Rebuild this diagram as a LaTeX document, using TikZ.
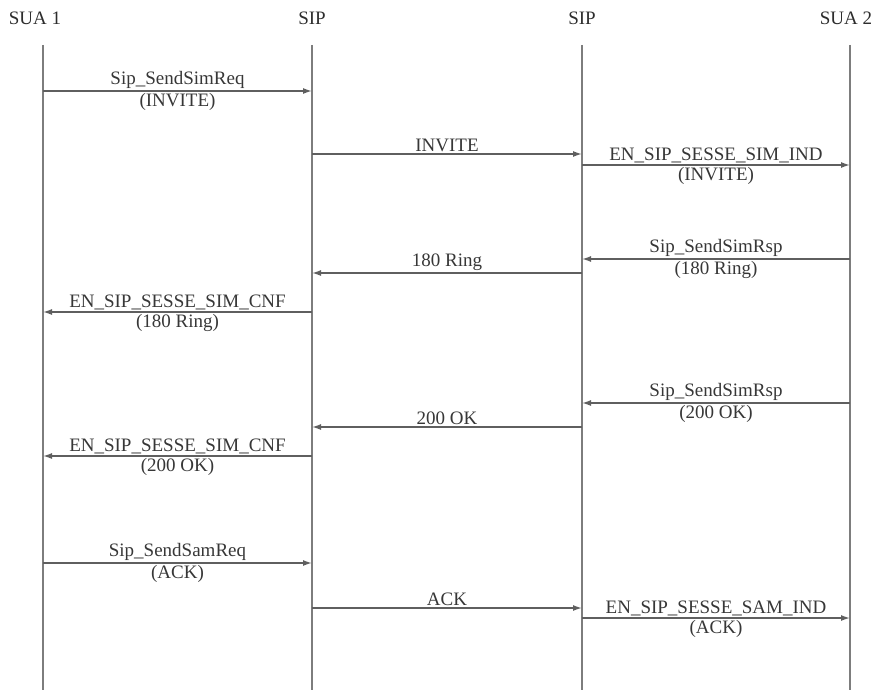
\documentclass[tikz,border=0pt]{standalone}
\usepackage{fontspec}
\setmainfont{Liberation Serif}
\usetikzlibrary{arrows.meta}

\begin{document}
\begin{tikzpicture}[x=1pt, y=-1pt, >={Latex[length=9pt,width=6pt]}]
  \tikzset{
    actor/.style={font=\fontsize{19}{22}\selectfont, text={rgb,255:red,45;green,45;blue,45}, inner sep=0pt},
    lifeline/.style={line width=2pt, draw={rgb,255:red,125;green,125;blue,125}},
    msg/.style={->, line width=1.5pt, draw={rgb,255:red,95;green,95;blue,95}},
    lbl/.style={font=\fontsize{19}{22}\selectfont, text={rgb,255:red,55;green,55;blue,55}, inner sep=1.5pt}
  }
  \useasboundingbox (0,0) rectangle (880,690);

  % actors
  \node[actor] (A) at (35,18) {SUA 1};
  \node[actor] (B) at (312,18) {SIP};
  \node[actor] (C) at (582,18) {SIP};
  \node[actor] (D) at (846,18) {SUA 2};

  % lifelines
  \coordinate (At) at (43,45);   \coordinate (Ab) at (43,690);
  \coordinate (Bt) at (312,45);  \coordinate (Bb) at (312,690);
  \coordinate (Ct) at (582,45);  \coordinate (Cb) at (582,690);
  \coordinate (Dt) at (850,45);  \coordinate (Db) at (850,690);
  \draw[lifeline] (At) -- (Ab);
  \draw[lifeline] (Bt) -- (Bb);
  \draw[lifeline] (Ct) -- (Cb);
  \draw[lifeline] (Dt) -- (Db);

  % INVITE
  \coordinate (m1a) at (43,91);   \coordinate (m1b) at (312,91);
  \draw[msg] (m1a) -- node[lbl, above] {Sip\_SendSimReq} node[lbl, below] {(INVITE)} (m1b);
  \coordinate (m2a) at (312,154); \coordinate (m2b) at (582,154);
  \draw[msg] (m2a) -- node[lbl, above] {INVITE} (m2b);
  \coordinate (m3a) at (582,165); \coordinate (m3b) at (850,165);
  \draw[msg] (m3a) -- node[lbl, above] {EN\_SIP\_SESSE\_SIM\_IND} node[lbl, below] {(INVITE)} (m3b);

  % 180 Ring
  \coordinate (m4a) at (850,259); \coordinate (m4b) at (582,259);
  \draw[msg] (m4a) -- node[lbl, above] {Sip\_SendSimRsp} node[lbl, below] {(180 Ring)} (m4b);
  \coordinate (m5a) at (582,273); \coordinate (m5b) at (312,273);
  \draw[msg] (m5a) -- node[lbl, above] {180 Ring} (m5b);
  \coordinate (m6a) at (312,312); \coordinate (m6b) at (43,312);
  \draw[msg] (m6a) -- node[lbl, above] {EN\_SIP\_SESSE\_SIM\_CNF} node[lbl, below] {(180 Ring)} (m6b);

  % 200 OK
  \coordinate (m7a) at (850,403); \coordinate (m7b) at (582,403);
  \draw[msg] (m7a) -- node[lbl, above] {Sip\_SendSimRsp} node[lbl, below] {(200 OK)} (m7b);
  \coordinate (m8a) at (582,427); \coordinate (m8b) at (312,427);
  \draw[msg] (m8a) -- node[lbl, above] {200 OK} (m8b);
  \coordinate (m9a) at (312,456); \coordinate (m9b) at (43,456);
  \draw[msg] (m9a) -- node[lbl, above] {EN\_SIP\_SESSE\_SIM\_CNF} node[lbl, below] {(200 OK)} (m9b);

  % ACK
  \coordinate (m10a) at (43,563);  \coordinate (m10b) at (312,563);
  \draw[msg] (m10a) -- node[lbl, above] {Sip\_SendSamReq} node[lbl, below] {(ACK)} (m10b);
  \coordinate (m11a) at (312,608); \coordinate (m11b) at (582,608);
  \draw[msg] (m11a) -- node[lbl, above] {ACK} (m11b);
  \coordinate (m12a) at (582,618); \coordinate (m12b) at (850,618);
  \draw[msg] (m12a) -- node[lbl, above] {EN\_SIP\_SESSE\_SAM\_IND} node[lbl, below] {(ACK)} (m12b);
\end{tikzpicture}
\end{document}
